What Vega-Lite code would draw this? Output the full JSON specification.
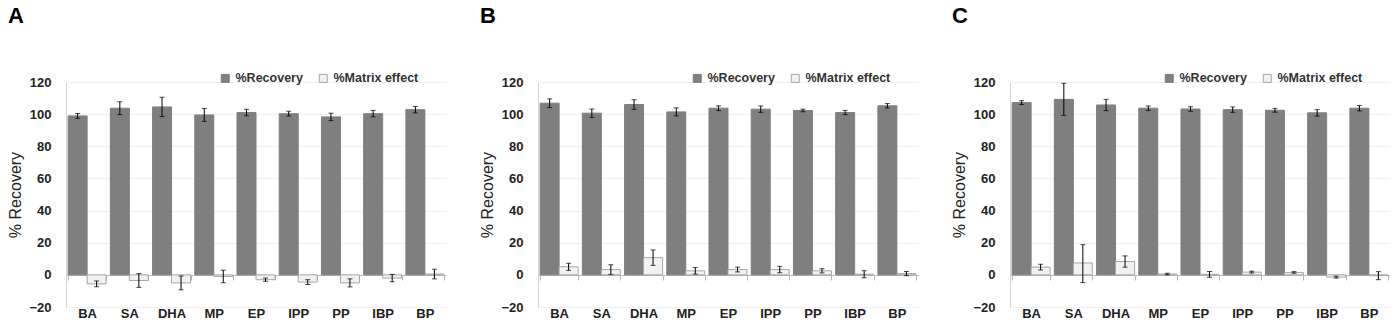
{
  "$schema": "https://vega.github.io/schema/vega-lite/v6.json",
  "background": "white",
  "padding": {"left": 7, "top": 5, "right": 0, "bottom": 0},
  "spacing": 33,
  "config": {
    "font": "Liberation Sans",
    "view": {"stroke": null},
    "title": {"fontSize": 22, "fontWeight": "bold", "anchor": "start", "frame": "bounds", "offset": 44, "color": "#000"},
    "axisX": {
      "title": null, "labelAngle": 0, "offset": -32, "tickBand": "extent", "tickSize": 5,
      "tickColor": "#b8b8b8", "domainColor": "#b8b8b8", "labelPadding": 27,
      "labelFontSize": 13, "labelFontWeight": "bold", "labelColor": "#222", "grid": false
    },
    "axisY": {
      "values": [-20, 0, 20, 40, 60, 80, 100, 120], "ticks": false, "labelPadding": 15,
      "labelFontSize": 13, "labelFontWeight": "bold", "labelColor": "#222",
      "domainColor": "#d4d4d4", "gridColor": "#f0f0f0",
      "titleFontSize": 16, "titleFontWeight": "normal", "titleColor": "#222", "titlePadding": 5
    },
    "legend": {
      "direction": "horizontal", "symbolType": "square", "symbolSize": 64,
      "labelFontSize": 12.5, "labelFontWeight": "bold", "labelColor": "#333",
      "columnPadding": 14, "symbolStrokeColor": "#9a9a9a", "symbolStrokeWidth": 1
    }
  },
  "datasets": {
    "rows": [
      {"p": "A", "c": "BA", "s": "%Recovery", "v": 98.9, "lo": 97.4, "hi": 100.4},
      {"p": "A", "c": "SA", "s": "%Recovery", "v": 103.7, "lo": 99.7, "hi": 107.7},
      {"p": "A", "c": "DHA", "s": "%Recovery", "v": 104.5, "lo": 98.5, "hi": 110.5},
      {"p": "A", "c": "MP", "s": "%Recovery", "v": 99.5, "lo": 95.5, "hi": 103.5},
      {"p": "A", "c": "EP", "s": "%Recovery", "v": 101.0, "lo": 99.0, "hi": 103.0},
      {"p": "A", "c": "IPP", "s": "%Recovery", "v": 100.3, "lo": 98.8, "hi": 101.8},
      {"p": "A", "c": "PP", "s": "%Recovery", "v": 98.3, "lo": 96.0, "hi": 100.6},
      {"p": "A", "c": "IBP", "s": "%Recovery", "v": 100.3, "lo": 98.3, "hi": 102.3},
      {"p": "A", "c": "BP", "s": "%Recovery", "v": 102.8, "lo": 100.8, "hi": 104.8},
      {"p": "A", "c": "BA", "s": "%Matrix effect", "v": -5.6, "lo": -7.4, "hi": -3.8},
      {"p": "A", "c": "SA", "s": "%Matrix effect", "v": -3.5, "lo": -7.8, "hi": 0.8},
      {"p": "A", "c": "DHA", "s": "%Matrix effect", "v": -5.0, "lo": -9.3, "hi": -0.7},
      {"p": "A", "c": "MP", "s": "%Matrix effect", "v": -1.0, "lo": -4.9, "hi": 2.9},
      {"p": "A", "c": "EP", "s": "%Matrix effect", "v": -3.0, "lo": -4.0, "hi": -2.0},
      {"p": "A", "c": "IPP", "s": "%Matrix effect", "v": -4.5, "lo": -6.0, "hi": -3.0},
      {"p": "A", "c": "PP", "s": "%Matrix effect", "v": -5.0, "lo": -7.5, "hi": -2.5},
      {"p": "A", "c": "IBP", "s": "%Matrix effect", "v": -2.0, "lo": -4.3, "hi": 0.3},
      {"p": "A", "c": "BP", "s": "%Matrix effect", "v": 0.5, "lo": -2.5, "hi": 3.5},

      {"p": "B", "c": "BA", "s": "%Recovery", "v": 106.8, "lo": 104.1, "hi": 109.5},
      {"p": "B", "c": "SA", "s": "%Recovery", "v": 100.6, "lo": 98.0, "hi": 103.2},
      {"p": "B", "c": "DHA", "s": "%Recovery", "v": 106.0, "lo": 103.0, "hi": 109.0},
      {"p": "B", "c": "MP", "s": "%Recovery", "v": 101.4, "lo": 98.9, "hi": 103.9},
      {"p": "B", "c": "EP", "s": "%Recovery", "v": 103.7, "lo": 102.2, "hi": 105.2},
      {"p": "B", "c": "IPP", "s": "%Recovery", "v": 103.1, "lo": 101.1, "hi": 105.1},
      {"p": "B", "c": "PP", "s": "%Recovery", "v": 102.3, "lo": 101.5, "hi": 103.1},
      {"p": "B", "c": "IBP", "s": "%Recovery", "v": 101.0, "lo": 99.7, "hi": 102.3},
      {"p": "B", "c": "BP", "s": "%Recovery", "v": 105.2, "lo": 103.8, "hi": 106.6},
      {"p": "B", "c": "BA", "s": "%Matrix effect", "v": 5.0, "lo": 2.8, "hi": 7.2},
      {"p": "B", "c": "SA", "s": "%Matrix effect", "v": 3.3, "lo": 0.3, "hi": 6.3},
      {"p": "B", "c": "DHA", "s": "%Matrix effect", "v": 10.7, "lo": 5.9, "hi": 15.5},
      {"p": "B", "c": "MP", "s": "%Matrix effect", "v": 2.5, "lo": 0.5, "hi": 4.5},
      {"p": "B", "c": "EP", "s": "%Matrix effect", "v": 3.3, "lo": 1.8, "hi": 4.8},
      {"p": "B", "c": "IPP", "s": "%Matrix effect", "v": 3.3, "lo": 1.3, "hi": 5.3},
      {"p": "B", "c": "PP", "s": "%Matrix effect", "v": 2.5, "lo": 1.2, "hi": 3.8},
      {"p": "B", "c": "IBP", "s": "%Matrix effect", "v": 0.4, "lo": -1.8, "hi": 2.6},
      {"p": "B", "c": "BP", "s": "%Matrix effect", "v": 0.8, "lo": -0.5, "hi": 2.1},

      {"p": "C", "c": "BA", "s": "%Recovery", "v": 107.2, "lo": 106.0, "hi": 108.4},
      {"p": "C", "c": "SA", "s": "%Recovery", "v": 109.2, "lo": 99.2, "hi": 119.2},
      {"p": "C", "c": "DHA", "s": "%Recovery", "v": 105.7, "lo": 102.2, "hi": 109.2},
      {"p": "C", "c": "MP", "s": "%Recovery", "v": 103.7, "lo": 102.3, "hi": 105.1},
      {"p": "C", "c": "EP", "s": "%Recovery", "v": 103.2, "lo": 101.8, "hi": 104.6},
      {"p": "C", "c": "IPP", "s": "%Recovery", "v": 102.8, "lo": 101.1, "hi": 104.5},
      {"p": "C", "c": "PP", "s": "%Recovery", "v": 102.4, "lo": 101.2, "hi": 103.6},
      {"p": "C", "c": "IBP", "s": "%Recovery", "v": 100.8, "lo": 98.8, "hi": 102.8},
      {"p": "C", "c": "BP", "s": "%Recovery", "v": 103.7, "lo": 102.0, "hi": 105.4},
      {"p": "C", "c": "BA", "s": "%Matrix effect", "v": 4.8, "lo": 3.0, "hi": 6.6},
      {"p": "C", "c": "SA", "s": "%Matrix effect", "v": 7.4, "lo": -4.8, "hi": 18.8},
      {"p": "C", "c": "DHA", "s": "%Matrix effect", "v": 8.3, "lo": 4.8, "hi": 11.8},
      {"p": "C", "c": "MP", "s": "%Matrix effect", "v": 0.5, "lo": 0.0, "hi": 1.0},
      {"p": "C", "c": "EP", "s": "%Matrix effect", "v": 0.3, "lo": -1.5, "hi": 2.1},
      {"p": "C", "c": "IPP", "s": "%Matrix effect", "v": 1.7, "lo": 1.1, "hi": 2.3},
      {"p": "C", "c": "PP", "s": "%Matrix effect", "v": 1.5, "lo": 1.0, "hi": 2.0},
      {"p": "C", "c": "IBP", "s": "%Matrix effect", "v": -1.4, "lo": -2.0, "hi": -0.8},
      {"p": "C", "c": "BP", "s": "%Matrix effect", "v": -0.5, "lo": -3.0, "hi": 2.0}
    ]
  },
  "data": {"name": "rows"},
  "resolve": {"legend": {"color": "independent"}, "scale": {"color": "independent", "stroke": "independent"}},
  "hconcat": [
    {
      "title": "A",
      "transform": [{"filter": "datum.p === 'A'"}],
      "width": 380, "height": 225,
      "encoding": {
        "x": {"field": "c", "type": "nominal", "sort": ["BA", "SA", "DHA", "MP", "EP", "IPP", "PP", "IBP", "BP"], "scale": {"paddingInner": 0.1, "paddingOuter": 0.05}},
        "xOffset": {"field": "s", "type": "nominal", "sort": ["%Recovery", "%Matrix effect"], "scale": {"paddingInner": 0}}
      },
      "layer": [
        {
          "mark": {"type": "bar", "strokeWidth": 1},
          "encoding": {
            "y": {"field": "v", "type": "quantitative", "scale": {"domain": [-20, 120]}, "axis": {"title": "% Recovery", "grid": true}},
            "color": {"field": "s", "type": "nominal", "sort": ["%Recovery", "%Matrix effect"], "scale": {"domain": ["%Recovery", "%Matrix effect"], "range": ["#7f7f7f", "#f2f2f2"]}, "legend": {"title": null, "orient": "none", "legendX": 153, "legendY": -10}},
            "stroke": {"field": "s", "type": "nominal", "scale": {"domain": ["%Recovery", "%Matrix effect"], "range": ["#7f7f7f", "#a6a6a6"]}, "legend": null}
          }
        },
        {"mark": {"type": "rule", "color": "#000", "strokeWidth": 1}, "encoding": {"y": {"field": "lo", "type": "quantitative"}, "y2": {"field": "hi"}}},
        {"mark": {"type": "tick", "color": "#000", "size": 5, "thickness": 1}, "encoding": {"y": {"field": "lo", "type": "quantitative"}}},
        {"mark": {"type": "tick", "color": "#000", "size": 5, "thickness": 1}, "encoding": {"y": {"field": "hi", "type": "quantitative"}}}
      ]
    },
    {
      "title": "B",
      "transform": [{"filter": "datum.p === 'B'"}],
      "width": 380, "height": 225,
      "encoding": {
        "x": {"field": "c", "type": "nominal", "sort": ["BA", "SA", "DHA", "MP", "EP", "IPP", "PP", "IBP", "BP"], "scale": {"paddingInner": 0.1, "paddingOuter": 0.05}},
        "xOffset": {"field": "s", "type": "nominal", "sort": ["%Recovery", "%Matrix effect"], "scale": {"paddingInner": 0}}
      },
      "layer": [
        {
          "mark": {"type": "bar", "strokeWidth": 1},
          "encoding": {
            "y": {"field": "v", "type": "quantitative", "scale": {"domain": [-20, 120]}, "axis": {"title": "% Recovery", "grid": true}},
            "color": {"field": "s", "type": "nominal", "sort": ["%Recovery", "%Matrix effect"], "scale": {"domain": ["%Recovery", "%Matrix effect"], "range": ["#7f7f7f", "#f2f2f2"]}, "legend": {"title": null, "orient": "none", "legendX": 153, "legendY": -10}},
            "stroke": {"field": "s", "type": "nominal", "scale": {"domain": ["%Recovery", "%Matrix effect"], "range": ["#7f7f7f", "#a6a6a6"]}, "legend": null}
          }
        },
        {"mark": {"type": "rule", "color": "#000", "strokeWidth": 1}, "encoding": {"y": {"field": "lo", "type": "quantitative"}, "y2": {"field": "hi"}}},
        {"mark": {"type": "tick", "color": "#000", "size": 5, "thickness": 1}, "encoding": {"y": {"field": "lo", "type": "quantitative"}}},
        {"mark": {"type": "tick", "color": "#000", "size": 5, "thickness": 1}, "encoding": {"y": {"field": "hi", "type": "quantitative"}}}
      ]
    },
    {
      "title": "C",
      "transform": [{"filter": "datum.p === 'C'"}],
      "width": 380, "height": 225,
      "encoding": {
        "x": {"field": "c", "type": "nominal", "sort": ["BA", "SA", "DHA", "MP", "EP", "IPP", "PP", "IBP", "BP"], "scale": {"paddingInner": 0.1, "paddingOuter": 0.05}},
        "xOffset": {"field": "s", "type": "nominal", "sort": ["%Recovery", "%Matrix effect"], "scale": {"paddingInner": 0}}
      },
      "layer": [
        {
          "mark": {"type": "bar", "strokeWidth": 1},
          "encoding": {
            "y": {"field": "v", "type": "quantitative", "scale": {"domain": [-20, 120]}, "axis": {"title": "% Recovery", "grid": true}},
            "color": {"field": "s", "type": "nominal", "sort": ["%Recovery", "%Matrix effect"], "scale": {"domain": ["%Recovery", "%Matrix effect"], "range": ["#7f7f7f", "#f2f2f2"]}, "legend": {"title": null, "orient": "none", "legendX": 153, "legendY": -10}},
            "stroke": {"field": "s", "type": "nominal", "scale": {"domain": ["%Recovery", "%Matrix effect"], "range": ["#7f7f7f", "#a6a6a6"]}, "legend": null}
          }
        },
        {"mark": {"type": "rule", "color": "#000", "strokeWidth": 1}, "encoding": {"y": {"field": "lo", "type": "quantitative"}, "y2": {"field": "hi"}}},
        {"mark": {"type": "tick", "color": "#000", "size": 5, "thickness": 1}, "encoding": {"y": {"field": "lo", "type": "quantitative"}}},
        {"mark": {"type": "tick", "color": "#000", "size": 5, "thickness": 1}, "encoding": {"y": {"field": "hi", "type": "quantitative"}}}
      ]
    }
  ]
}
